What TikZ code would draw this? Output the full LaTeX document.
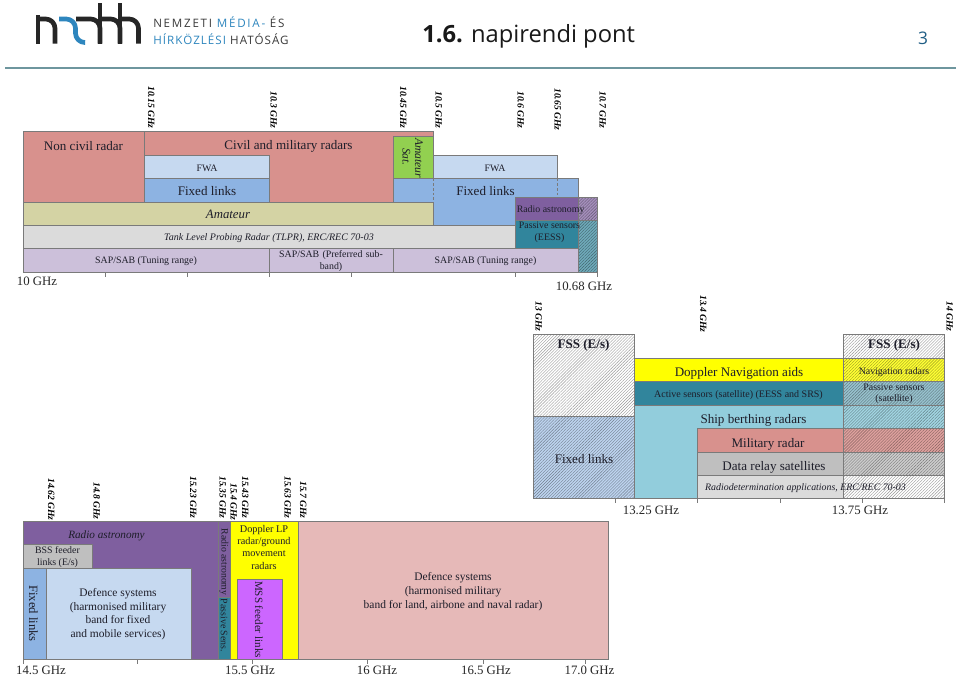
\documentclass[tikz,border=0pt]{standalone}
\usepackage{fontspec}
\setmainfont{Liberation Serif}
\newfontfamily\headfont{Open Sans}
\usetikzlibrary{patterns.meta}

% drawing units: one unit = 0.75pt, y grows downwards
\definecolor{radarred}{HTML}{D8918D}
\definecolor{fwablue}{HTML}{C6D9F0}
\definecolor{linkblue}{HTML}{8DB3E2}
\definecolor{amateurtan}{HTML}{D4D3A4}
\definecolor{tlprgrey}{HTML}{DBDBDB}
\definecolor{sappurple}{HTML}{CCC0DA}
\definecolor{satgreen}{HTML}{92D050}
\definecolor{astropurple}{HTML}{7F5F9F}
\definecolor{passiveteal}{HTML}{31859C}
\definecolor{shipblue}{HTML}{92CDDC}
\definecolor{relaygrey}{HTML}{BFBFBF}
\definecolor{defencepink}{HTML}{E6B9B8}
\definecolor{mssviolet}{HTML}{CC66FF}
\definecolor{edgegrey}{HTML}{7A7A7A}
\definecolor{ink}{HTML}{1E1E2A}
\definecolor{rulegrey}{HTML}{6E969E}
\definecolor{logoblue}{HTML}{2E86BE}
\definecolor{logotext}{HTML}{3A3A3A}
\definecolor{signalyellow}{rgb}{1,1,0}

\newcommand{\tsize}[1]{\fontsize{#1}{\dimexpr #1*6/5\relax}\selectfont}
\newcommand{\band}[5]{% x1 y1 x2 y2 colour
  \draw[bandedge,fill=#5] (#1,#2) rectangle (#3,#4);}
\newcommand{\hatchband}[5]{% x1 y1 x2 y2 colour
  \fill[#5] (#1,#2) rectangle (#3,#4);
  \fill[pattern={Lines[angle=45,distance=1.6pt,line width=.3pt]},pattern color=#5!60!black] (#1,#2) rectangle (#3,#4);
  \draw[bandedge] (#1,#2) rectangle (#3,#4);}
\newcommand{\ghz}[4]{% name x top-of-text label
  \node[ghzlabel] (#1) at (#2+1.3,#3) {#4};}
\newcommand{\tickmark}[2]{\draw[tickline] (#1,#2) -- ++(0,4.5);}

\tikzset{
  x=.75pt,y=-.75pt,
  bandedge/.style={draw=edgegrey,line width=.55pt},
  tickline/.style={draw=edgegrey,line width=.5pt},
  lbl/.style={inner sep=0pt,align=center,text=ink,font=\tsize{9.8pt},yshift=-.9pt},
  turned/.style={inner sep=0pt,align=center,text=ink,rotate=-90},
  small/.style={lbl,font=\tsize{7.4pt}},
  ghzlabel/.style={inner sep=0pt,rotate=-90,anchor=west,text=black,font=\tsize{7.2pt}\bfseries\itshape},
  axis/.style={inner sep=0pt,text=black!85,font=\tsize{9.6pt}},
  logo/.style={line width=3.5pt,line join=round,rounded corners=7pt},
  logostem/.style={line width=3.5pt},
  logoword/.style={inner sep=0pt,anchor=west,font=\headfont\tsize{8.7pt}}
}

\begin{document}
\begin{tikzpicture}
\useasboundingbox (0,0) rectangle (960,675);
\fill[white] (0,0) rectangle (960,675);

% ---- slide header ----
\draw[logostem,black!85] (38,15) -- (38,43.5);
\draw[logo,black!85] (38,19) -- (55,19) -- (55,43.5);
\draw[logo,black!85] (76,19) -- (100,19) -- (100,43.5);
\draw[logostem,black!85] (100,3) -- (100,43.5);
\draw[logo,black!85] (100,19) -- (120,19) -- (120,43.5);
\draw[logostem,black!85] (120,3) -- (120,43.5);
\draw[logo,black!85] (120,19) -- (138.5,19) -- (138.5,43.5);
\draw[logo,logoblue] (59,19) -- (75.5,19) -- (75.5,42.5) -- (85,42.5);
\node[logoword,text=logotext] (w1) at (153,22.5) {\addfontfeature{LetterSpace=15}NEMZETI \textcolor{logoblue}{MÉDIA-} ÉS};
\node[logoword,text=logotext] (w2) at (153,39.5) {\addfontfeature{LetterSpace=9}\textcolor{logoblue}{HÍRKÖZLÉSI} HATÓSÁG};
\node[inner sep=0pt,anchor=west,font=\headfont\tsize{17.8pt},text=black!90] (title) at (422,36) {\textbf{1.6.} napirendi pont};
\node[inner sep=0pt,font=\headfont\tsize{13pt},text=logoblue!70!black] (page) at (923,38) {3};
\draw[rulegrey,line width=1.1pt] (5,68) -- (956,68);

% ---- 10 - 10.68 GHz ----
\band{23}{131}{433}{202}{radarred}
\draw[bandedge] (144.5,131) -- (144.5,202);
\band{393}{136}{433}{178.5}{satgreen}
\band{144.5}{155}{269}{178.5}{fwablue}
\band{144.5}{178.5}{269}{202}{linkblue}
\band{433}{155}{557}{178.5}{fwablue}
\fill[linkblue] (393,178.5) rectangle (578,202);
\fill[linkblue] (433,202) rectangle (578,225);
\draw[bandedge] (393,202) -- (393,178.5) -- (578,178.5) -- (578,197);
\band{23}{202}{433}{225}{amateurtan}
\band{23}{225}{515}{248}{tlprgrey}
\band{23}{248}{269}{272}{sappurple}
\band{269}{248}{393}{272}{sappurple}
\band{393}{248}{578}{272}{sappurple}
\hatchband{578}{197}{597}{220}{astropurple!70!white}
\hatchband{578}{220}{597}{272}{passiveteal!70!white}
\band{515}{197}{578}{220}{astropurple}
\band{515}{220}{578}{248}{passiveteal}
\draw[bandedge,dash pattern=on 2pt off 1.5pt] (433,178.5) -- (433,202);
\draw[bandedge,dash pattern=on 2pt off 1.5pt] (557,178.5) -- (557,197);
\foreach \x in {105,187,269,351,515,597} {\tickmark{\x}{272}}

\node[lbl] (a1) at (83.5,145) {Non civil radar};
\node[lbl] (a2) at (288.5,145) {Civil and military radars};
\node[small] (a3) at (207,167) {FWA};
\node[lbl] (a4) at (207,190) {Fixed links};
\node[small] (a5) at (495,167) {FWA};
\node[lbl] (a6) at (485.5,190) {Fixed links};
\node[turned,font=\tsize{8.7pt}\itshape] (a7) at (419,158) {Amateur};
\node[turned,font=\tsize{8.7pt}\itshape] (a8) at (406.5,157) {Sat.};
\node[lbl,font=\tsize{9.6pt}\itshape] (a9) at (228,213.5) {Amateur};
\node[small,font=\tsize{7.5pt}\itshape] (a10) at (269,236.5) {Tank Level Probing Radar (TLPR), ERC/REC 70-03};
\node[small] (a11) at (146,260) {SAP/SAB (Tuning range)};
\node[small,text width=118pt*.75] (a12) at (331,260) {SAP/SAB (Preferred sub-\\band)};
\node[small] (a13) at (485.5,260) {SAP/SAB (Tuning range)};
\node[small,anchor=west] (a14) at (516.5,208.5) {Radio astronomy};
\node[small] (a15) at (549.5,231) {Passive sensors\\(EESS)};
\node[axis] (a16) at (37,281) {10 GHz};
\node[axis] (a17) at (584,286) {10.68 GHz};

\ghz{f1}{150}{86}{10.15 GHz}
\ghz{f2}{272.5}{91}{10.3 GHz}
\ghz{f3}{402}{86}{10.45 GHz}
\ghz{f4}{437.5}{91}{10.5 GHz}
\ghz{f5}{519.5}{91}{10.6 GHz}
\ghz{f6}{556.5}{88}{10.65 GHz}
\ghz{f7}{601.5}{91}{10.7 GHz}

% ---- 13 - 14 GHz ----
\hatchband{533}{334.5}{634.5}{416.5}{white}
\hatchband{533}{416.5}{634.5}{498}{fwablue!85!linkblue}
\band{634.5}{405}{843}{498}{shipblue}
\band{634.5}{358.5}{843}{381.5}{signalyellow}
\band{634.5}{381.5}{843}{405}{passiveteal}
\band{697.5}{428.5}{843}{452}{radarred}
\band{697.5}{452}{843}{475.5}{relaygrey}
\band{697.5}{475.5}{843}{498}{tlprgrey}
\hatchband{843}{334.5}{944}{358.5}{white}
\hatchband{843}{358.5}{944}{381.5}{signalyellow!80!white}
\hatchband{843}{381.5}{944}{405}{passiveteal!50!white}
\hatchband{843}{405}{944}{428.5}{shipblue!85!white}
\hatchband{843}{428.5}{944}{452}{radarred!85!white}
\hatchband{843}{452}{944}{475.5}{relaygrey!80!white}
\hatchband{843}{475.5}{944}{498}{white}
\foreach \x in {615,697.5,780,862,944} {\tickmark{\x}{498}}

\node[lbl,font=\tsize{9.8pt}\bfseries] (b1) at (583.5,344.5) {FSS (E/s)};
\node[lbl,font=\tsize{9.8pt}\bfseries] (b2) at (894,344.5) {FSS (E/s)};
\node[lbl] (b3) at (584,457.5) {Fixed links};
\node[lbl] (b4) at (739,372) {Doppler Navigation aids};
\node[small,font=\tsize{7.5pt}] (b5) at (738.5,394) {Active sensors (satellite) (EESS and SRS)};
\node[lbl] (b6) at (753.5,419.5) {Ship berthing radars};
\node[lbl] (b7) at (768,443) {Military radar};
\node[lbl] (b8) at (774,466) {Data relay satellites};
\node[small,font=\tsize{7.4pt}\itshape] (b9) at (805.5,487) {Radiodetermination applications, ERC/REC 70-03};
\node[small] (b10) at (894,370.5) {Navigation radars};
\node[small] (b11) at (894,392.5) {Passive sensors\\(satellite)};
\node[axis] (b12) at (651,510.5) {13.25 GHz};
\node[axis] (b13) at (860,510.5) {13.75 GHz};

\ghz{f8}{537.5}{301}{13 GHz}
\ghz{f9}{702}{295}{13.4 GHz}
\ghz{f10}{948.5}{301}{14 GHz}

% ---- 14.5 - 17 GHz ----
\band{23}{521}{218.5}{659.5}{astropurple}
\band{23}{544.5}{92}{568}{relaygrey}
\band{23}{568}{46}{659.5}{linkblue}
\band{46}{568}{191}{659.5}{fwablue}
\band{218.5}{521}{230}{597}{astropurple}
\band{218.5}{597}{230}{659.5}{passiveteal}
\band{230}{521}{298}{659.5}{signalyellow}
\band{237}{579}{282.5}{659.5}{mssviolet}
\band{298}{521}{608}{659.5}{defencepink}
\foreach \x in {23,137,252,367,483,585} {\tickmark{\x}{659.5}}

\node[lbl,font=\tsize{8.4pt}\itshape] (c1) at (106.5,535) {Radio astronomy};
\node[small,font=\tsize{7.4pt}] (c2) at (57.5,556) {BSS feeder\\links (E/s)};
\node[turned,font=\tsize{9.5pt}] (c3) at (33.5,613.5) {Fixed links};
\node[lbl,font=\tsize{8.6pt}] (c4) at (118,613) {Defence systems\\(harmonised military\\band for fixed\\and mobile services)};
\node[turned,font=\tsize{7.3pt}] (c5) at (224,562) {Radio astronomy};
\node[turned,font=\tsize{7.4pt}] (c6) at (224,625.5) {Passive Sens.};
\node[lbl,font=\tsize{7.7pt}] (c7) at (264,546) {Doppler LP\\radar/ground\\movement\\radars};
\node[turned,font=\tsize{8.3pt}] (c8) at (259,619.5) {MSS feeder links};
\node[lbl,font=\tsize{8.6pt}] (c9) at (453,590.5) {Defence systems\\(harmonised military\\band for land, airbone and naval radar)};
\node[axis] (c10) at (41,670) {14.5 GHz};
\node[axis] (c11) at (250,670) {15.5 GHz};
\node[axis] (c12) at (377,670) {16 GHz};
\node[axis] (c13) at (486,670) {16.5 GHz};
\node[axis] (c14) at (589.5,670) {17.0 GHz};

\ghz{f11}{50}{478}{14.62 GHz}
\ghz{f12}{95.5}{482}{14.8 GHz}
\ghz{f13}{192}{476}{15.23 GHz}
\ghz{f14}{221.5}{476}{15.35 GHz}
\ghz{f15}{232.5}{483}{15.4 GHz}
\ghz{f16}{244}{476}{15.43 GHz}
\ghz{f17}{286.5}{476}{15.63 GHz}
\ghz{f18}{302}{481}{15.7 GHz}
\end{tikzpicture}
\end{document}
